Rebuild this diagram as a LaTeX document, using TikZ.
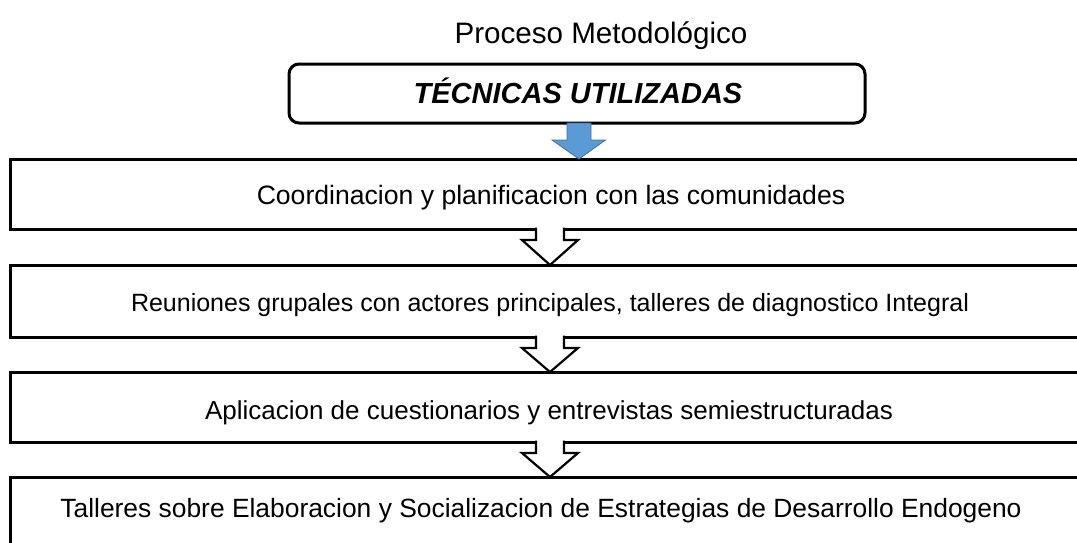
\documentclass[tikz,border=0pt]{standalone}
\usepackage{fontspec}
\setmainfont{Liberation Sans}
\usetikzlibrary{calc}
\definecolor{arrowblue}{HTML}{5B9BD5}
\definecolor{arrowedge}{HTML}{41719C}
\newcommand{\hollowarr}[2]{%
  \fill[white] ($(#1.south)+(-14,-2.5)$) -- ($(#1.south)+(14,-2.5)$) -- ($(#1.south)+(14,11)$) -- ($(#1.south)+(28,11)$) -- (#2.north) -- ($(#1.south)+(-28,11)$) -- ($(#1.south)+(-14,11)$) -- cycle;
  \draw[hollowline] ($(#1.south)+(-14,-1.5)$) -- ($(#1.south)+(-14,11)$) -- ($(#1.south)+(-28,11)$) -- (#2.north) -- ($(#1.south)+(28,11)$) -- ($(#1.south)+(14,11)$) -- ($(#1.south)+(14,-1.5)$);}
\begin{document}
\begin{tikzpicture}[x=1pt,y=-1pt,
  stepbox/.style={draw=black, line width=3pt, minimum width=1080pt, minimum height=70pt, inner sep=0pt, outer sep=0pt},
  steptext/.style={inner sep=0pt, font=\fontsize{#1}{30}\selectfont},
  hollowline/.style={draw=black, line width=2.2pt, line join=miter},
  titlebox/.style={draw=black, line width=3pt, rounded corners=10pt, minimum width=576pt, minimum height=59pt, inner sep=0pt, outer sep=0pt}]
\useasboundingbox (0,0) rectangle (1077,542);
\begin{scope}
\clip (0,0) rectangle (1077,542);
\fill[white] (0,0) rectangle (1077,542);
\node[font=\fontsize{29.6}{33}\selectfont] (title) at (601,36) {Proceso Metodológico};
\node[titlebox] (tec) at (577,93.5) {};
\node[inner sep=0pt, font=\fontsize{29}{33}\selectfont\bfseries\itshape] (tect) at (578,91) {TÉCNICAS UTILIZADAS};
\node[stepbox] (b1) at (550,194) {};
\node[stepbox, minimum height=72pt] (b2) at (550,301) {};
\node[stepbox] (b3) at (550,407) {};
\node[stepbox] (b4) at (550,512) {};
\node[steptext=26.6] (t1) at (551,198) {Coordinacion y planificacion con las comunidades};
\node[steptext=25] (t2) at (550,305) {Reuniones grupales con actores principales, talleres de diagnostico Integral};
\node[steptext=26] (t3) at (549,413) {Aplicacion de cuestionarios y entrevistas semiestructuradas};
\node[steptext=26.4] (t4) at (541,511) {Talleres sobre Elaboracion y Socializacion de Estrategias de Desarrollo Endogeno};
\filldraw[fill=arrowblue, draw=arrowedge, line width=0.8pt]
  ($(tec.south)+(-10,0)$) -- ($(tec.south)+(14,0)$) -- ($(tec.south)+(14,17)$) -- ($(tec.south)+(28.5,17)$) -- ($(tec.south |- b1.north)+(2,0)$) -- ($(tec.south)+(-25,17)$) -- ($(tec.south)+(-10,17)$) -- cycle;
\hollowarr{b1}{b2}
\hollowarr{b2}{b3}
\hollowarr{b3}{b4}
\end{scope}
\end{tikzpicture}
\end{document}
